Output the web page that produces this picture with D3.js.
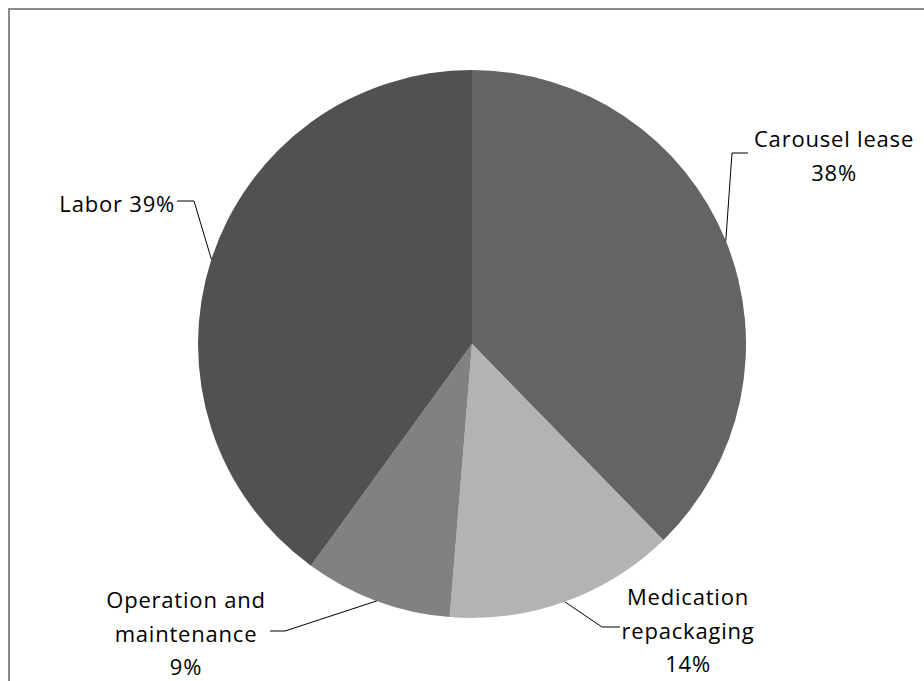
<!DOCTYPE html>
<html>
<head>
<meta charset="utf-8">
<script src="https://cdn.jsdelivr.net/npm/d3@7"></script>
<style>
  body { margin: 0; background: #fff; }
  svg { display: block; }
  .lbl { font-family: "Open Sans", sans-serif; font-size: 22px; fill: #000; letter-spacing: 0.8px; }
</style>
</head>
<body>
<svg id="chart" width="924" height="681"></svg>
<script>
'use strict'

// slices, clockwise from 12 o'clock
const categories = ['Carousel lease', 'Medication repackaging', 'Operation and maintenance', 'Labor']
const values = [37.7, 13.6, 8.7, 40.0]
const pctLabels = ['38%', '14%', '9%', '39%']
const colors = ['#646464', '#b3b3b3', '#818181', '#515151']

const cx = 472, cy = 344, radius = 274

// label layout: text lines, anchor, elbow points of the leader
const layout = [
  {lines: ['Carousel lease', pctLabels[0]], x: 834, y: 147, anchor: 'middle', leader: [[732, 153], [748, 153]]},
  {lines: ['Medication', 'repackaging', pctLabels[1]], x: 688, y: 605, anchor: 'middle', leader: [[602, 627], [620, 627]]},
  {lines: ['Operation and', 'maintenance', pctLabels[2]], x: 186, y: 608, anchor: 'middle', leader: [[285, 631], [270, 631]]},
  {lines: ['Labor ' + pctLabels[3]], x: 175, y: 212, anchor: 'end', leader: [[194, 201], [177, 201]]}
]
const lineGap = 33.7

const svg = d3.select('#chart')

// chart area border (right/bottom edges fall outside the window)
svg.append('rect')
  .attr('x', 9).attr('y', 9)
  .attr('width', 940).attr('height', 700)
  .attr('fill', 'none')
  .attr('stroke', '#8a8a8a')
  .attr('stroke-width', 2)

const pie = d3.pie().sort(null).value(d => d)
const arcs = pie(values)
const arc = d3.arc().innerRadius(0).outerRadius(radius)

const g = svg.append('g').attr('transform', 'translate(' + cx + ',' + cy + ')')

g.selectAll('path.slice')
  .data(arcs)
  .enter().append('path')
    .attr('class', 'slice')
    .attr('d', arc)
    .attr('fill', (d, i) => colors[i])

// leader lines: start on the slice's outer edge at its mid angle
const line = d3.line()
arcs.forEach((d, i) => {
  const a = (d.startAngle + d.endAngle) / 2
  const start = [cx + radius * Math.sin(a), cy - radius * Math.cos(a)]
  svg.append('path')
    .attr('d', line([start].concat(layout[i].leader)))
    .attr('fill', 'none')
    .attr('stroke', '#000')
    .attr('stroke-width', 1)
})

// labels
layout.forEach((l, i) => {
  const t = svg.append('text')
    .attr('class', 'lbl')
    .attr('text-anchor', l.anchor)
  l.lines.forEach((s, j) => {
    t.append('tspan')
      .attr('x', l.x)
      .attr('y', l.y + j * lineGap)
      .text(s)
  })
})
</script>
</body>
</html>
